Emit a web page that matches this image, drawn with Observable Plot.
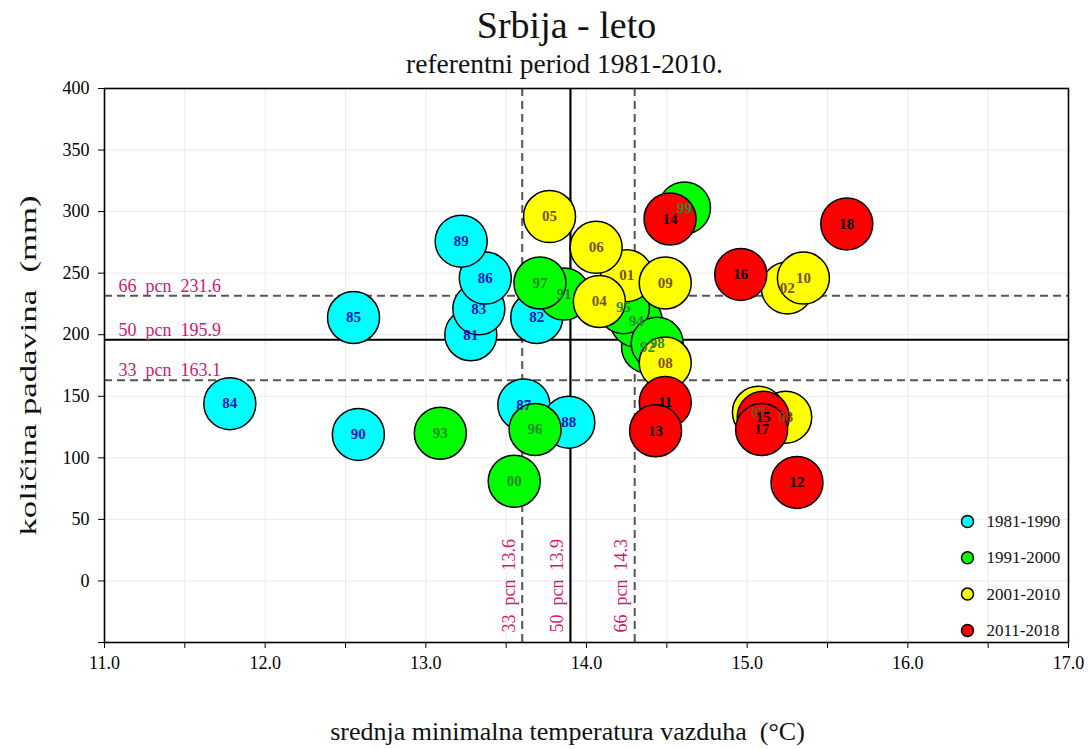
<!DOCTYPE html>
<html>
<head>
<meta charset="utf-8">
<script src="https://cdn.jsdelivr.net/npm/d3@7"></script>
<script src="https://cdn.jsdelivr.net/npm/@observablehq/plot@0.6"></script>
<style>
  body { margin: 0; background: #fff; }
  #chart { width: 1088px; height: 749px; }
  #chart svg text { font-family: "Liberation Serif", "Times New Roman", serif !important; }
</style>
</head>
<body>
<div id="chart"></div>
<script>
// ---- data (summer, Serbia) ----
const yearLabels = ["81","82","83","84","85","86","87","88","89","90",
                    "91","92","93","94","95","96","97","98","99","00",
                    "01","02","03","04","05","06","07","08","09","10",
                    "11","12","13","14","15","16","17","18"];
const tempMin = [13.28,13.69,13.33,11.78,12.55,13.37,13.61,13.89,13.22,12.58,
                 13.86,14.38,13.09,14.31,14.23,13.68,13.71,14.44,14.61,13.55,
                 14.25,15.25,15.24,14.08,13.77,14.06,15.07,14.49,14.49,15.35,
                 14.49,15.31,14.43,14.52,15.10,14.96,15.09,15.62];
const precip = [200,214,221,144,214,246,143,129,276,119,
                233,190,120,211,222,123,242,193,303,81,
                248,238,133,227,296,271,137,177,242,246,
                145,80,122,294,133,249,123,290];
const periods = ["1981-1990","1991-2000","2001-2010","2011-2018"];
const periodFill = ["#00ffff","#00ff00","#ffff00","#ff0000"];
const periodText = ["#1515b8","#2a8a2a","#7d4e1e","#000000"];
const pctPrecip = [{p:"66", v:231.6},{p:"50", v:195.9},{p:"33", v:163.1}];
const pctTemp = [{p:"33", v:13.6},{p:"50", v:13.9},{p:"66", v:14.3}];
const xTicks = d3.range(11, 17.01, 0.5);
const yTicks = d3.range(-50, 401, 50);
const titleText = "Srbija - leto";
const subtitleText = "referentni period 1981-2010.";
const xLabel = "srednja minimalna temperatura vazduha  (°C)";
const yLabel = "količina padavina  (mm)";

const data = yearLabels.map((lab, i) => ({
  lab, t: tempMin[i], p: precip[i], k: Math.min(3, Math.floor(i / 10))
}));

const pcnColor = "#d4176f";

const legendMarks = [];
periods.forEach((name, i) => {
  legendMarks.push(Plot.dot([name], {frameAnchor: "bottom-right", dx: -101, dy: -121 + i * 36.3,
    r: 6, fill: periodFill[i], stroke: "black", strokeWidth: 1.5}));
  legendMarks.push(Plot.text([name], {frameAnchor: "bottom-right", dx: -82, dy: -121 + i * 36.3,
    text: d => d, textAnchor: "start", lineAnchor: "middle", fontSize: 17, fill: "#111"}));
});

const chart = Plot.plot({
  width: 1088,
  height: 749,
  marginTop: 88,
  marginBottom: 107,
  marginLeft: 104,
  marginRight: 20,
  style: {background: "white"},
  x: {domain: [11, 17]},
  y: {domain: [-50, 400]},
  marks: [
    // faint grid
    Plot.ruleX(xTicks.slice(1, -1), {stroke: "#ebebeb", strokeWidth: 1}),
    Plot.ruleY(yTicks.slice(1, -1), {stroke: "#ebebeb", strokeWidth: 1}),
    // percentile lines
    Plot.ruleY(pctPrecip.filter(d => d.p !== "50"), {y: "v", stroke: "#555", strokeWidth: 2, strokeDasharray: "8,5"}),
    Plot.ruleX(pctTemp.filter(d => d.p !== "50"), {x: "v", stroke: "#555", strokeWidth: 2, strokeDasharray: "8,5"}),
    Plot.ruleY(pctPrecip.filter(d => d.p === "50"), {y: "v", stroke: "black", strokeWidth: 2.2}),
    Plot.ruleX(pctTemp.filter(d => d.p === "50"), {x: "v", stroke: "black", strokeWidth: 2.2}),
    // percentile labels
    Plot.text(pctPrecip, {x: 11, y: "v", text: d => `${d.p}\u00a0 pcn\u00a0 ${d.v.toFixed(1)}`,
      textAnchor: "start", dx: 14, dy: -10, fill: pcnColor, fontSize: 18}),
    Plot.text(pctTemp, {x: "v", y: -50, text: d => `${d.p}\u00a0 pcn\u00a0 ${d.v.toFixed(1)}`,
      rotate: -90, textAnchor: "start", dx: -13, dy: -10, fill: pcnColor, fontSize: 18}),
    // bubbles
    Plot.dot(data, {x: "t", y: "p", r: 26, fill: d => periodFill[d.k], stroke: "black", strokeWidth: 1.5}),
    Plot.text(data, {x: "t", y: "p", text: "lab", fill: d => periodText[d.k],
      fontWeight: "bold", fontSize: 15}),
    // frame
    Plot.frame({stroke: "black", strokeWidth: 1.6}),
    // axes
    Plot.axisX({ticks: xTicks, tickSize: 6, tickPadding: 8, fontSize: 18,
      tickFormat: d => Number.isInteger(d) ? d.toFixed(1) : "", label: null}),
    Plot.axisY({ticks: yTicks, tickSize: 6, tickPadding: 9, fontSize: 18,
      tickFormat: d => d < 0 ? "" : String(d), label: null}),
    // titles and axis labels
    Plot.text([titleText], {frameAnchor: "top", text: d => d, textAnchor: "middle", lineAnchor: "middle",
      dx: -20, dy: -63, fontSize: 38, fill: "#111"}),
    Plot.text([subtitleText], {frameAnchor: "top", text: d => d, textAnchor: "middle", lineAnchor: "middle",
      dx: -22, dy: -24, fontSize: 27.5, fill: "#111"}),
    Plot.text([xLabel], {frameAnchor: "bottom", text: d => d, textAnchor: "middle", lineAnchor: "middle",
      dx: -19, dy: 89, fontSize: 26, fill: "#111"}),
    Plot.text([yLabel], {frameAnchor: "left", text: d => d, textAnchor: "middle", lineAnchor: "middle",
      rotate: -90, dx: -76, fontSize: 24, fill: "#111"}),
    ...legendMarks
  ]
});
// stretch the vertical axis title along its run, as in the reference
d3.select(chart).selectAll("text")
  .filter(function () { return this.textContent === yLabel; })
  .attr("textLength", 340)
  .attr("lengthAdjust", "spacingAndGlyphs");
document.getElementById("chart").appendChild(chart);
</script>
</body>
</html>
